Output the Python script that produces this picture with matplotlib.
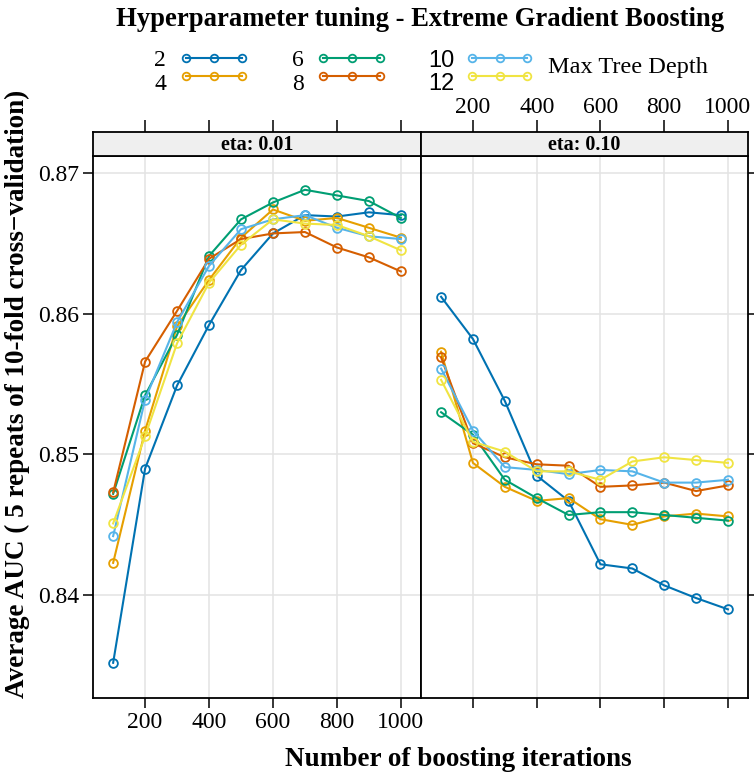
import matplotlib
matplotlib.use("Agg")
import matplotlib.pyplot as plt
from matplotlib.lines import Line2D

# ---------------- data ----------------
iterations = [100, 200, 300, 400, 500, 600, 700, 800, 900, 1000]
depths = ["2", "4", "6", "8", "10", "12"]
colors = ["#0072B2", "#E69F00", "#009E73", "#D55E00", "#56B4E9", "#F0E442"]
eta_labels = ["eta: 0.01", "eta: 0.10"]

eta001_d2 = [0.8352, 0.8490, 0.8549, 0.8592, 0.8631, 0.8657, 0.8670, 0.8669, 0.8672, 0.8670]
eta001_d4 = [0.8423, 0.8517, 0.8591, 0.8624, 0.8654, 0.8674, 0.8666, 0.8668, 0.8661, 0.8654]
eta001_d6 = [0.8472, 0.8542, 0.8585, 0.8641, 0.8667, 0.8679, 0.8688, 0.8684, 0.8680, 0.8668]
eta001_d8 = [0.8473, 0.8566, 0.8602, 0.8639, 0.8653, 0.8657, 0.8658, 0.8647, 0.8640, 0.8630]
eta001_d10 = [0.8442, 0.8539, 0.8594, 0.8634, 0.8660, 0.8667, 0.8670, 0.8661, 0.8655, 0.8653]
eta001_d12 = [0.8451, 0.8513, 0.8579, 0.8622, 0.8649, 0.8667, 0.8664, 0.8663, 0.8655, 0.8645]

eta010_d2 = [0.8612, 0.8582, 0.8538, 0.8485, 0.8467, 0.8422, 0.8419, 0.8407, 0.8398, 0.8390]
eta010_d4 = [0.8573, 0.8494, 0.8477, 0.8467, 0.8469, 0.8454, 0.8450, 0.8456, 0.8458, 0.8456]
eta010_d6 = [0.8530, 0.8514, 0.8482, 0.8469, 0.8457, 0.8459, 0.8459, 0.8457, 0.8455, 0.8453]
eta010_d8 = [0.8569, 0.8508, 0.8498, 0.8493, 0.8492, 0.8477, 0.8478, 0.8480, 0.8474, 0.8478]
eta010_d10 = [0.8561, 0.8517, 0.8491, 0.8489, 0.8486, 0.8489, 0.8488, 0.8480, 0.8480, 0.8482]
eta010_d12 = [0.8553, 0.8509, 0.8502, 0.8488, 0.8488, 0.8482, 0.8495, 0.8498, 0.8496, 0.8494]

panels = [
    [eta001_d2, eta001_d4, eta001_d6, eta001_d8, eta001_d10, eta001_d12],
    [eta010_d2, eta010_d4, eta010_d6, eta010_d8, eta010_d10, eta010_d12],
]
xticks = [200, 400, 600, 800, 1000]
yticks = [0.84, 0.85, 0.86, 0.87]

# ---------------- style ----------------
SERIF = ["Liberation Serif", "DejaVu Serif"]
plt.rcParams["font.family"] = SERIF
W, H = 754, 777
fig = plt.figure(figsize=(W / 100, H / 100), dpi=100)


def rect(x0, y0, x1, y1):
    return [x0 / W, 1 - y1 / H, (x1 - x0) / W, (y1 - y0) / H]


xlim = (37, 1063)
ylim = (0.8327, 0.8712)
panel_x = [(93, 421), (421, 748)]
top_strip, bot_strip, bottom = 132, 156, 698
grid_col = "#E3E3E3"
tick_fs = 17

for i, (x0, x1) in enumerate(panel_x):
    ax = fig.add_axes(rect(x0, bot_strip, x1, bottom))
    ax.set_xlim(*xlim)
    ax.set_ylim(*ylim)
    for xv in xticks:
        ax.axvline(xv, color=grid_col, lw=1.1, zorder=0)
    for yv in yticks:
        ax.axhline(yv, color=grid_col, lw=1.1, zorder=0)
    for vals, c in zip(panels[i], colors):
        ax.plot(iterations, vals, color=c, lw=1.5, marker="o", ms=6.3,
                mfc="none", mec=c, mew=1.3, zorder=3)
    for s in ax.spines.values():
        s.set_linewidth(1.3)
    ax.set_xticks(xticks)
    ax.set_yticks(yticks)
    ax.tick_params(direction="out", length=7, width=1.1, labelsize=tick_fs,
                   pad=3, color="black")
    if i == 0:
        ax.tick_params(axis="y", left=True, right=False, labelleft=True)
        ax.tick_params(axis="x", bottom=True, labelbottom=True)
        ax.set_yticklabels(["0.84", "0.85", "0.86", "0.87"])
    else:
        ax.tick_params(axis="y", left=False, right=True, labelleft=False,
                       labelright=False)
        ax.tick_params(axis="x", bottom=True, labelbottom=False)

    # strip
    sax = fig.add_axes(rect(x0, top_strip, x1, bot_strip))
    sax.set_facecolor("#EFEFEF")
    sax.set_xlim(*xlim)
    sax.set_ylim(0, 1)
    sax.set_yticks([])
    sax.set_xticks(xticks)
    sax.tick_params(axis="x", top=True, bottom=False, labelbottom=False,
                    labeltop=(i == 1), direction="out", length=9, width=1.1,
                    labelsize=tick_fs, pad=1)
    for s in sax.spines.values():
        s.set_linewidth(1.3)
    sax.text(0.5, 0.45, eta_labels[i], transform=sax.transAxes, ha="center",
             va="center", fontsize=14.5, fontweight="bold")

# titles / labels
fig.text(420 / W, 1 - 19 / H, "Hyperparameter tuning - Extreme Gradient Boosting",
         ha="center", va="center", fontsize=19.2, fontweight="bold")
fig.text(458 / W, 1 - 760 / H, "Number of boosting iterations",
         ha="center", va="center", fontsize=19.5, fontweight="bold")
fig.text(17 / W, 1 - 394 / H,
         "Average AUC ( 5 repeats of 10-fold cross\u2212validation)",
         ha="center", va="center", rotation=90, fontsize=19.5, fontweight="bold")

# legend (pixel-coordinate overlay)
lax = fig.add_axes([0, 0, 1, 1])
lax.set_xlim(0, W)
lax.set_ylim(H, 0)
lax.axis("off")
leg_cols = [(0, 1, 166, 186, 242), (2, 3, 304, 323, 380), (4, 5, 454, 472, 527)]
for a, b, tx, lx0, lx1 in leg_cols:
    for k, ly, ty in [(a, 57.7, 61), (b, 76, 84)]:
        fam = ["Liberation Sans", "DejaVu Sans"] if depths[k] in ("10", "12") else SERIF
        lax.text(tx, ty, depths[k], ha="right", va="center", fontsize=17,
                 family=fam)
        xs = [lx0, (lx0 + lx1) / 2, lx1]
        lax.add_line(Line2D(xs, [ly] * 3, color=colors[k], lw=1.5, marker="o",
                            ms=5.5, mfc="none", mec=colors[k], mew=1.3))
lax.text(548, 68, "Max Tree Depth", ha="left", va="center", fontsize=17.5)

fig.savefig("out.png", dpi=100)
